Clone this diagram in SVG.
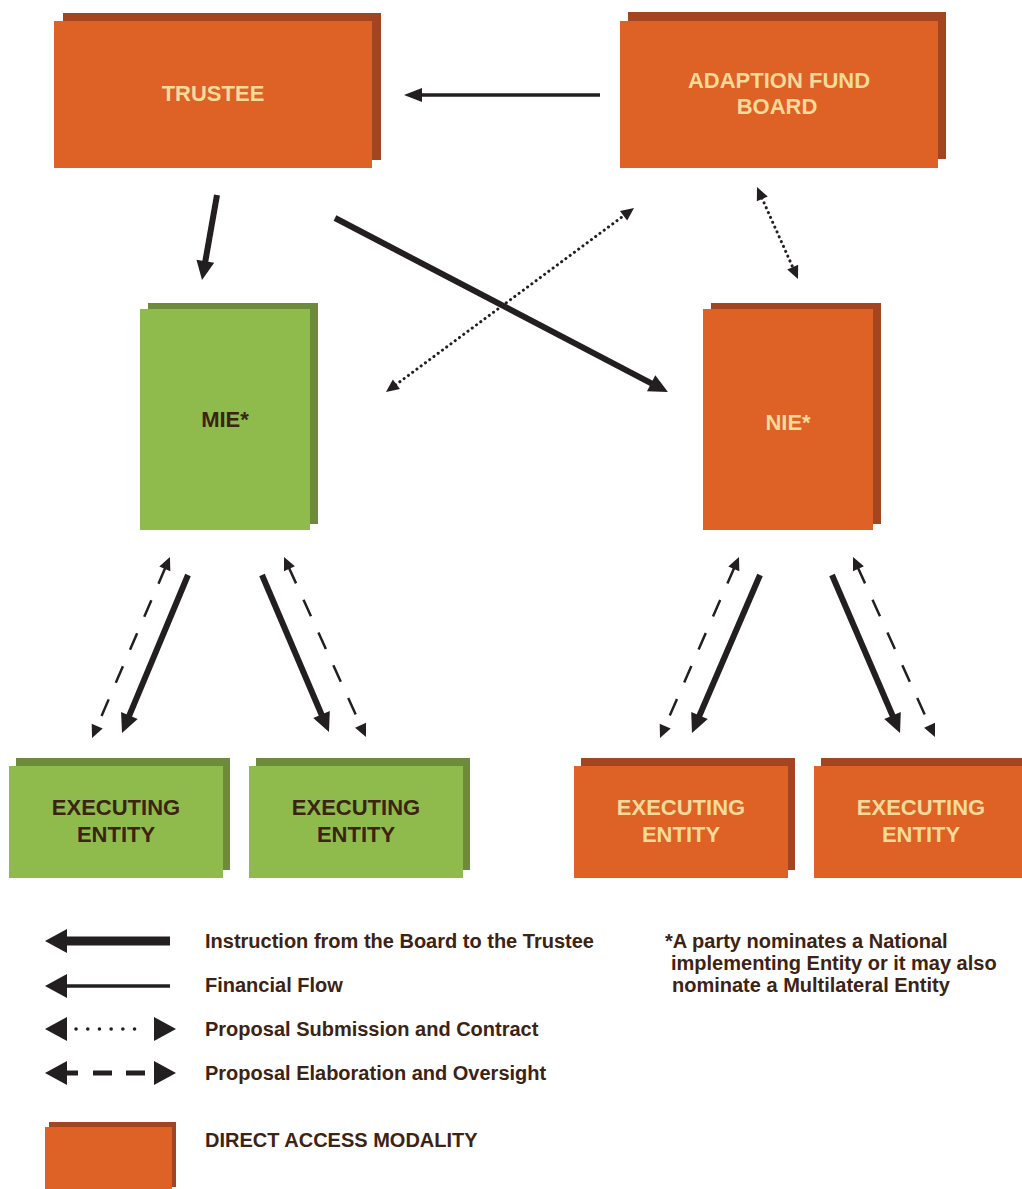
<svg xmlns="http://www.w3.org/2000/svg" xmlns:xlink="http://www.w3.org/1999/xlink" width="1022" height="1189" viewBox="0 0 1022 1189">
<style>
.bg{fill:#ffffff}
.or{fill:#de6126}
.ors{fill:#a44522}
.gr{fill:#8fbb4d}
.grs{fill:#6d8b3b}
.lbl{font-family:"Liberation Sans",Arial,sans-serif;font-weight:bold;font-size:22px;text-anchor:middle}
.cream{fill:#f5da9a}
.dark{fill:#3c2314}
.txt{font-family:"Liberation Sans",Arial,sans-serif;font-weight:bold;font-size:20px;fill:#3c2314}
.thick{stroke:#231f20;stroke-width:6;fill:none;marker-end:url(#hThick)}
.med{stroke:#231f20;stroke-width:3.5;fill:none;marker-end:url(#hMed)}
.dot{stroke:#231f20;stroke-width:3;fill:none;stroke-linecap:round;stroke-dasharray:0.1 5.2;marker-start:url(#hDot);marker-end:url(#hDot)}
.dash{stroke:#231f20;stroke-width:2.5;fill:none;stroke-dasharray:18 18;marker-start:url(#hDash);marker-end:url(#hDash)}
.ah{fill:#231f20}
</style>
<defs>
<marker id="hThick" markerUnits="userSpaceOnUse" markerWidth="19" markerHeight="18" refX="3" refY="9" orient="auto" overflow="visible"><path d="M0,0 L19,9 L0,18 z" fill="#231f20"/></marker>
<marker id="hMed" markerUnits="userSpaceOnUse" markerWidth="18" markerHeight="14" refX="2" refY="7" orient="auto" overflow="visible"><path d="M0,0 L18,7 L0,14 z" fill="#231f20"/></marker>
<marker id="hDot" markerUnits="userSpaceOnUse" markerWidth="13" markerHeight="12" refX="1" refY="6" orient="auto-start-reverse" overflow="visible"><path d="M0,0 L13,6 L0,12 z" fill="#231f20"/></marker>
<marker id="hDash" markerUnits="userSpaceOnUse" markerWidth="13" markerHeight="12" refX="2" refY="6" orient="auto-start-reverse" overflow="visible"><path d="M0,0 L13,6 L0,12 z" fill="#231f20"/></marker>
<path id="lgHead" d="M0,0 L22,-12 L22,12 z"/>
</defs>
<rect class="bg" x="0" y="0" width="1022" height="1189"/>

<g id="trustee">
<rect class="ors" x="63" y="13" width="318" height="147"/>
<rect class="or" x="54" y="21" width="318" height="147"/>
<text class="lbl cream" x="213" y="101">TRUSTEE</text>
</g>
<g id="afb">
<rect class="ors" x="628" y="12" width="318" height="147"/>
<rect class="or" x="620" y="21" width="318" height="147"/>
<text class="lbl cream" x="779" y="88">ADAPTION FUND</text>
<text class="lbl cream" x="777" y="114">BOARD</text>
</g>
<g id="mie">
<rect class="grs" x="148" y="303" width="170" height="221"/>
<rect class="gr" x="140" y="309" width="170" height="221"/>
<text class="lbl dark" x="225" y="427">MIE*</text>
</g>
<g id="nie">
<rect class="ors" x="711" y="303" width="170" height="221"/>
<rect class="or" x="703" y="309" width="170" height="221"/>
<text class="lbl cream" x="788" y="430">NIE*</text>
</g>
<g id="ee1">
<rect class="grs" x="16" y="758" width="214" height="112"/>
<rect class="gr" x="9" y="766" width="214" height="112"/>
<text class="lbl dark" x="116" y="815">EXECUTING</text>
<text class="lbl dark" x="116" y="842">ENTITY</text>
</g>
<g id="ee2">
<rect class="grs" x="256" y="758" width="214" height="112"/>
<rect class="gr" x="249" y="766" width="214" height="112"/>
<text class="lbl dark" x="356" y="815">EXECUTING</text>
<text class="lbl dark" x="356" y="842">ENTITY</text>
</g>
<g id="ee3">
<rect class="ors" x="581" y="758" width="214" height="112"/>
<rect class="or" x="574" y="766" width="214" height="112"/>
<text class="lbl cream" x="681" y="815">EXECUTING</text>
<text class="lbl cream" x="681" y="842">ENTITY</text>
</g>
<g id="ee4">
<rect class="ors" x="821" y="758" width="214" height="112"/>
<rect class="or" x="814" y="766" width="214" height="112"/>
<text class="lbl cream" x="921" y="815">EXECUTING</text>
<text class="lbl cream" x="921" y="842">ENTITY</text>
</g>

<g id="connectors">
<line class="med" x1="600" y1="95" x2="420" y2="95"/>
<line class="thick" x1="217" y1="195" x2="204.8" y2="264.2"/>
<line class="thick" x1="335" y1="218" x2="653.8" y2="384.6"/>
<line class="dot" x1="395.6" y1="384.9" x2="624.4" y2="215.2"/>
<line class="dot" x1="761.9" y1="198" x2="793.1" y2="268"/>
<line class="thick" x1="188" y1="575" x2="128.2" y2="718.2"/>
<line class="dash" x1="165.6" y1="567.1" x2="96.4" y2="727.9"/>
<line class="thick" x1="262" y1="575" x2="322.7" y2="717.3"/>
<line class="dash" x1="288.6" y1="567" x2="361.4" y2="727"/>
<line class="thick" x1="760" y1="575" x2="698.3" y2="718.3"/>
<line class="dash" x1="734.6" y1="567.1" x2="664.4" y2="727.9"/>
<line class="thick" x1="832" y1="575" x2="893.7" y2="718.3"/>
<line class="dash" x1="857.6" y1="567" x2="930.4" y2="727"/>
</g>

<g id="legend">
<line x1="170" y1="941" x2="65" y2="941" stroke="#231f20" stroke-width="9"/>
<use xlink:href="#lgHead" class="ah" transform="translate(45,941)"/>
<text class="txt" x="205" y="948">Instruction from the Board to the Trustee</text>

<line x1="170" y1="986" x2="65" y2="986" stroke="#231f20" stroke-width="3.5"/>
<use xlink:href="#lgHead" class="ah" transform="translate(45,986)"/>
<text class="txt" x="205" y="992">Financial Flow</text>

<line x1="76" y1="1029" x2="146" y2="1029" stroke="#231f20" stroke-width="3.5" stroke-linecap="round" stroke-dasharray="0.1 11.6"/>
<use xlink:href="#lgHead" class="ah" transform="translate(45,1029)"/>
<use xlink:href="#lgHead" class="ah" transform="translate(176,1029) scale(-1,1)"/>
<text class="txt" x="205" y="1036">Proposal Submission and Contract</text>

<path d="M66,1073 H78 M93,1073 H112 M126,1073 H145" stroke="#231f20" stroke-width="5" fill="none"/>
<use xlink:href="#lgHead" class="ah" transform="translate(45,1073)"/>
<use xlink:href="#lgHead" class="ah" transform="translate(176,1073) scale(-1,1)"/>
<text class="txt" x="205" y="1080">Proposal Elaboration and Oversight</text>

<rect class="ors" x="49" y="1122" width="127" height="65"/>
<rect class="or" x="45" y="1127" width="127" height="62"/>
<text class="txt" x="205" y="1147">DIRECT ACCESS MODALITY</text>

<text class="txt" x="665" y="948">*A party nominates a National</text>
<text class="txt" x="671" y="970">implementing Entity or it may also</text>
<text class="txt" x="672" y="992">nominate a Multilateral Entity</text>
</g>
</svg>
